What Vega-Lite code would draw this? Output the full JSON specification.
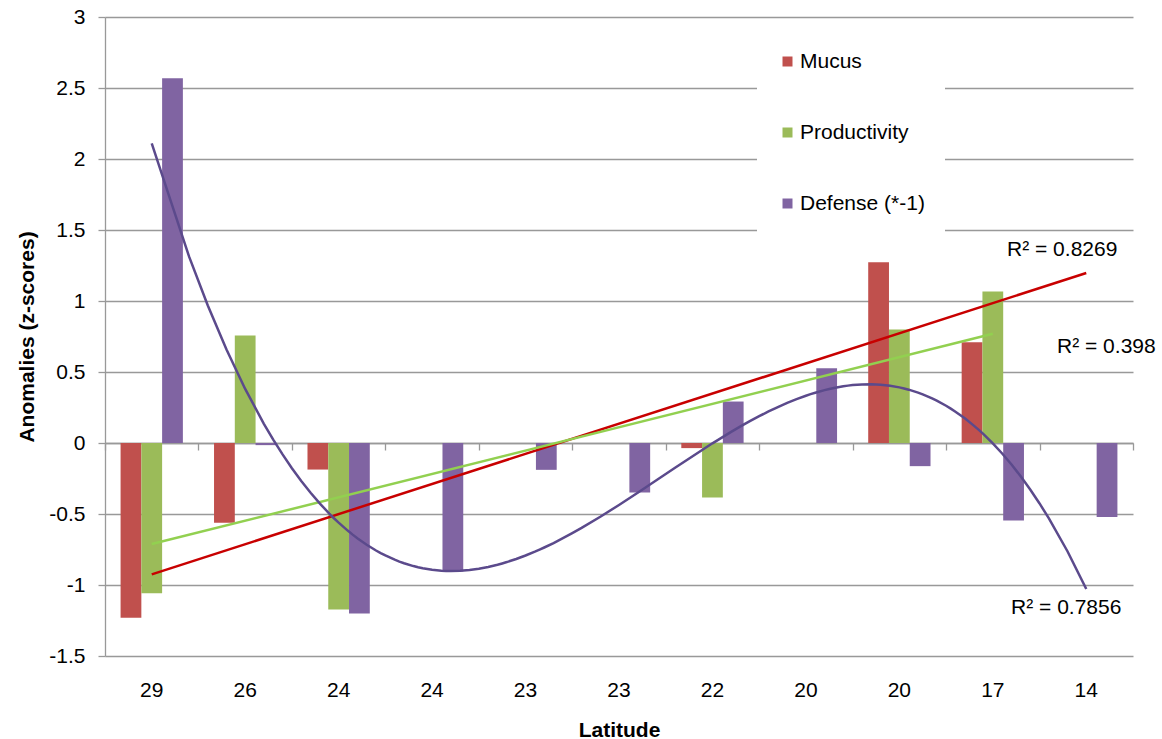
{
  "$schema": "https://vega.github.io/schema/vega-lite/v6.json",
  "width": 1028,
  "height": 639,
  "autosize": "none",
  "padding": {"left": 105, "top": 17, "right": 29, "bottom": 83},
  "config": {
    "font": "Liberation Sans",
    "view": {"stroke": null},
    "background": "white"
  },
  "data": {
    "values": [
      {"idx": 1, "series": "Mucus", "value": -1.231},
      {"idx": 1, "series": "Productivity", "value": -1.058},
      {"idx": 1, "series": "Defense (*-1)", "value": 2.569},
      {"idx": 2, "series": "Mucus", "value": -0.562},
      {"idx": 2, "series": "Productivity", "value": 0.757},
      {"idx": 2, "series": "Defense (*-1)", "value": -0.015},
      {"idx": 3, "series": "Mucus", "value": -0.187},
      {"idx": 3, "series": "Productivity", "value": -1.173},
      {"idx": 3, "series": "Defense (*-1)", "value": -1.2},
      {"idx": 4, "series": "Defense (*-1)", "value": -0.905},
      {"idx": 5, "series": "Defense (*-1)", "value": -0.189},
      {"idx": 6, "series": "Defense (*-1)", "value": -0.349},
      {"idx": 7, "series": "Mucus", "value": -0.036},
      {"idx": 7, "series": "Productivity", "value": -0.384},
      {"idx": 7, "series": "Defense (*-1)", "value": 0.292},
      {"idx": 8, "series": "Defense (*-1)", "value": 0.527},
      {"idx": 9, "series": "Mucus", "value": 1.273},
      {"idx": 9, "series": "Productivity", "value": 0.799},
      {"idx": 9, "series": "Defense (*-1)", "value": -0.163},
      {"idx": 10, "series": "Mucus", "value": 0.71},
      {"idx": 10, "series": "Productivity", "value": 1.067},
      {"idx": 10, "series": "Defense (*-1)", "value": -0.546},
      {"idx": 11, "series": "Defense (*-1)", "value": -0.522}
    ]
  },
  "encoding": {
    "y": {
      "field": "value",
      "type": "quantitative",
      "title": "Anomalies (z-scores)",
      "scale": {"domain": [-1.5, 3], "nice": false, "zero": false},
      "axis": {
        "values": [-1.5, -1, -0.5, 0, 0.5, 1, 1.5, 2, 2.5, 3],
        "labelExpr": "'' + datum.value",
        "labelFontSize": 21,
        "labelColor": "#000000",
        "labelPadding": 13,
        "tickSize": 7,
        "tickColor": "#999999",
        "tickWidth": 1.3,
        "domainColor": "#999999",
        "domainWidth": 1.3,
        "grid": true,
        "gridColor": "#999999",
        "gridWidth": 1.3,
        "titleFontSize": 21,
        "titleFontWeight": "bold",
        "titleColor": "#000000",
        "titleAngle": 270,
        "titleX": -78,
        "titleY": 319.5,
        "titleAlign": "center",
        "titleBaseline": "middle"
      }
    }
  },
  "layer": [
    {
      "mark": {"type": "bar"},
      "encoding": {
        "x": {
          "field": "idx",
          "type": "ordinal",
          "title": "Latitude",
          "scale": {"paddingInner": 0.3333, "paddingOuter": 0.1667},
          "axis": {
            "labelExpr": "['29','26','24','24','23','23','22','20','20','17','14'][datum.value - 1]",
            "labelAngle": 0,
            "labelFontSize": 21,
            "labelColor": "#000000",
            "labelBaseline": "alphabetic",
            "labelPadding": 40,
            "ticks": false,
            "tickSize": 0,
            "domain": false,
            "grid": false,
            "titleFontSize": 21,
            "titleFontWeight": "bold",
            "titleColor": "#000000",
            "titleBaseline": "alphabetic",
            "titleX": 514,
            "titleY": 80,
            "titleAlign": "center"
          }
        },
        "xOffset": {
          "field": "series",
          "scale": {"domain": ["Mucus", "Productivity", "Defense (*-1)"], "paddingInner": 0, "paddingOuter": 0}
        },
        "color": {
          "field": "series",
          "type": "nominal",
          "scale": {"domain": ["Mucus", "Productivity", "Defense (*-1)"], "range": ["#C0504D", "#9BBB59", "#8064A2"]},
          "legend": {
            "title": null,
            "orient": "none",
            "legendX": 652,
            "legendY": 14,
            "padding": 20,
            "fillColor": "white",
            "strokeColor": null,
            "symbolType": "square",
            "symbolSize": 100,
            "symbolStrokeWidth": 0,
            "labelFontSize": 21,
            "labelColor": "#000000",
            "labelOffset": 2,
            "rowPadding": 49
          }
        }
      }
    },
    {
      "encoding": {
        "x": {
          "field": "idx",
          "type": "quantitative",
          "scale": {"domain": [0.5, 11.5], "nice": false, "zero": false},
          "axis": {
            "orient": "bottom",
            "offset": -213,
            "values": [0.5, 1.5, 2.5, 3.5, 4.5, 5.5, 6.5, 7.5, 8.5, 9.5, 10.5, 11.5],
            "labels": false,
            "ticks": true,
            "tickSize": 7,
            "tickColor": "#999999",
            "tickWidth": 1.3,
            "domain": true,
            "domainColor": "#999999",
            "domainWidth": 1.3,
            "grid": false,
            "title": null
          }
        }
      },
      "layer": [
        {
          "transform": [
            {"filter": "datum.series === 'Mucus'"},
            {"regression": "value", "on": "idx", "method": "linear", "extent": [1, 11]}
          ],
          "mark": {"type": "line", "color": "#C80000", "strokeWidth": 2.5}
        },
        {
          "transform": [
            {"filter": "datum.series === 'Productivity'"},
            {"regression": "value", "on": "idx", "method": "linear", "extent": [1, 10]}
          ],
          "mark": {"type": "line", "color": "#92D050", "strokeWidth": 2.5}
        },
        {
          "transform": [
            {"filter": "datum.series === 'Defense (*-1)'"},
            {"regression": "value", "on": "idx", "method": "poly", "order": 3, "extent": [1, 11]}
          ],
          "mark": {"type": "line", "color": "#5B4A8C", "strokeWidth": 2.5}
        },
        {
          "data": {
            "values": [
              {"idx": 10.152, "value": 1.359, "label": "R² = 0.8269"},
              {"idx": 10.687, "value": 0.678, "label": "R² = 0.398"},
              {"idx": 10.195, "value": -1.162, "label": "R² = 0.7856"}
            ]
          },
          "mark": {"type": "text", "align": "left", "baseline": "middle", "fontSize": 21, "color": "#000000"},
          "encoding": {"text": {"field": "label"}}
        }
      ]
    }
  ],
  "resolve": {"scale": {"x": "independent"}}
}
